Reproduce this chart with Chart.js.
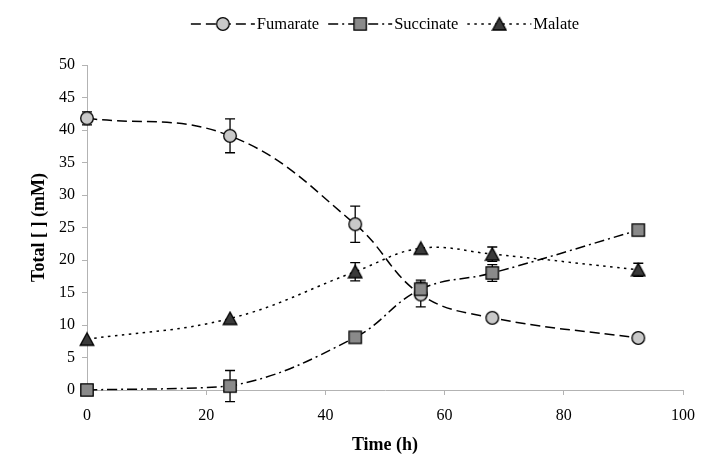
<!DOCTYPE html>
<html>
<head>
<meta charset="utf-8">
<script src="https://cdn.jsdelivr.net/npm/chart.js@4/dist/chart.umd.min.js"></script>
<style>
  html, body { margin: 0; padding: 0; background: #fff; }
  #wrap { width: 706px; height: 469px; }
</style>
</head>
<body>
<div id="wrap"><canvas id="c"></canvas></div>
<script>
// Sampling times (h)
const hours = [0, 24, 45, 56, 68, 92.5];

// Total concentrations (mM) and their error bars (± mM)
const fumarate     = [41.8, 39.1, 25.5, 14.7, 11.1, 8.0];
const fumarateErr  = [1.0, 2.6, 2.8, 1.9, 0, 0];
const succinate    = [0, 0.6, 8.1, 15.5, 18.0, 24.6];
const succinateErr = [0, 2.4, 0, 1.4, 1.3, 0];
const malate       = [7.8, 11.0, 18.2, 21.8, 20.9, 18.5];
const malateErr    = [0, 0, 1.4, 0, 1.1, 1.0];

const seriesNames = ['Fumarate', 'Succinate', 'Malate'];
const xTickValues = [0, 20, 40, 60, 80, 100];
const yTickValues = [0, 5, 10, 15, 20, 25, 30, 35, 40, 45, 50];

const SERIF = "'Liberation Serif', 'Times New Roman', serif";

// Marker images
function makeMarker(kind) {
  const c = document.createElement('canvas');
  c.width = 16; c.height = 16;
  const g = c.getContext('2d');
  g.lineWidth = 1.3;
  g.strokeStyle = '#000';
  g.beginPath();
  if (kind === 'circle') {
    g.fillStyle = '#c9c9c9';
    g.arc(8, 8, 6.3, 0, Math.PI * 2);
  } else if (kind === 'square') {
    g.fillStyle = '#8a8a8a';
    g.rect(1.8, 1.8, 12.4, 12.4);
  } else {
    g.fillStyle = '#3a3a3a';
    g.moveTo(8, 1.6);
    g.lineTo(14.8, 14);
    g.lineTo(1.2, 14);
    g.closePath();
  }
  g.fill();
  g.stroke();
  return c;
}
const circleImg = makeMarker('circle');
const squareImg = makeMarker('square');
const triangleImg = makeMarker('triangle');

const dashFum = [10, 5];
const dashSuc = [10, 4, 2, 4];
const dashMal = [2.5, 4.5];

function pts(ys) { return hours.map((h, i) => ({ x: h, y: ys[i] })); }

// Vertical error bars with caps, drawn beneath the series
const errorBars = {
  id: 'errorBars',
  beforeDatasetsDraw(chart) {
    const { ctx, scales: { x, y } } = chart;
    ctx.save();
    ctx.strokeStyle = '#000';
    ctx.lineWidth = 1.3;
    chart.data.datasets.forEach(ds => {
      ds.err.forEach((e, i) => {
        if (!e) return;
        const px = x.getPixelForValue(ds.data[i].x);
        const top = y.getPixelForValue(ds.data[i].y + e);
        const bot = y.getPixelForValue(ds.data[i].y - e);
        ctx.beginPath();
        ctx.moveTo(px, top); ctx.lineTo(px, bot);
        ctx.moveTo(px - 5, top); ctx.lineTo(px + 5, top);
        ctx.moveTo(px - 5, bot); ctx.lineTo(px + 5, bot);
        ctx.stroke();
      });
    });
    ctx.restore();
  }
};

// Legend row above the plot: line sample with marker, then the name
const lineLegend = {
  id: 'lineLegend',
  afterDraw(chart) {
    const { ctx, chartArea } = chart;
    const items = chart.data.datasets.slice().sort((a, b) => a.legendIndex - b.legendIndex);
    const symW = 64, textGap = 2, itemGap = 9, yMid = 24;
    ctx.save();
    ctx.font = '16.5px ' + SERIF;
    ctx.textBaseline = 'middle';
    ctx.fillStyle = '#000';
    const widths = items.map(d => symW + textGap + ctx.measureText(d.label).width);
    const total = widths.reduce((a, b) => a + b, 0) + itemGap * (items.length - 1);
    let xPos = (chartArea.left + chartArea.right) / 2 - total / 2;
    items.forEach((d, i) => {
      ctx.save();
      ctx.strokeStyle = '#000';
      ctx.lineWidth = 1.6;
      ctx.setLineDash(d.borderDash);
      ctx.beginPath();
      ctx.moveTo(xPos, yMid); ctx.lineTo(xPos + symW, yMid);
      ctx.stroke();
      ctx.restore();
      const img = d.pointStyle;
      ctx.drawImage(img, xPos + symW / 2 - img.width / 2, yMid - img.height / 2);
      ctx.fillText(d.label, xPos + symW + textGap, yMid + 1);
      xPos += widths[i] + itemGap;
    });
    ctx.restore();
  }
};

const common = {
  borderColor: '#000',
  borderWidth: 1.5,
  tension: 0.4,
  pointRadius: 7,
  pointHoverRadius: 7,
  fill: false,
  clip: false
};

new Chart(document.getElementById('c'), {
  type: 'line',
  data: {
    datasets: [
      Object.assign({}, common, { label: seriesNames[0], data: pts(fumarate), err: fumarateErr,
        borderDash: dashFum, pointStyle: circleImg, order: 3, legendIndex: 0 }),
      Object.assign({}, common, { label: seriesNames[1], data: pts(succinate), err: succinateErr,
        borderDash: dashSuc, pointStyle: squareImg, order: 1, legendIndex: 1 }),
      Object.assign({}, common, { label: seriesNames[2], data: pts(malate), err: malateErr,
        borderDash: dashMal, pointStyle: triangleImg, order: 2, legendIndex: 2 })
    ]
  },
  options: {
    responsive: true,
    maintainAspectRatio: false,
    animation: false,
    events: [],
    layout: { padding: { top: 65, right: 19, bottom: 12, left: 27 } },
    plugins: { legend: { display: false }, tooltip: { enabled: false } },
    scales: {
      x: {
        type: 'linear',
        min: 0, max: 100,
        afterFit(s) { s.height = 67; },
        afterBuildTicks(s) { s.ticks = xTickValues.map(v => ({ value: v })); },
        grid: { drawOnChartArea: false, drawTicks: true, tickLength: 5, color: '#b3b3b3', lineWidth: 1 },
        border: { color: '#b3b3b3', width: 1 },
        ticks: { color: '#000', padding: 11, font: { family: SERIF, size: 16 } },
        title: { display: true, text: 'Time (h)', color: '#000', padding: { top: 2, bottom: 1 },
          font: { family: SERIF, size: 18, weight: 'bold' } }
      },
      y: {
        type: 'linear',
        min: 0, max: 50,
        afterFit(s) { s.width = 60; },
        afterBuildTicks(s) { s.ticks = yTickValues.map(v => ({ value: v })); },
        grid: { drawOnChartArea: false, drawTicks: true, tickLength: 5, color: '#b3b3b3', lineWidth: 1 },
        border: { color: '#b3b3b3', width: 1 },
        ticks: { color: '#000', padding: 7, font: { family: SERIF, size: 16 } },
        title: { display: true, text: 'Total [ ] (mM)', color: '#000', padding: { top: 2, bottom: 2 },
          font: { family: SERIF, size: 18, weight: 'bold' } }
      }
    }
  },
  plugins: [errorBars, lineLegend]
});
</script>
</body>
</html>
